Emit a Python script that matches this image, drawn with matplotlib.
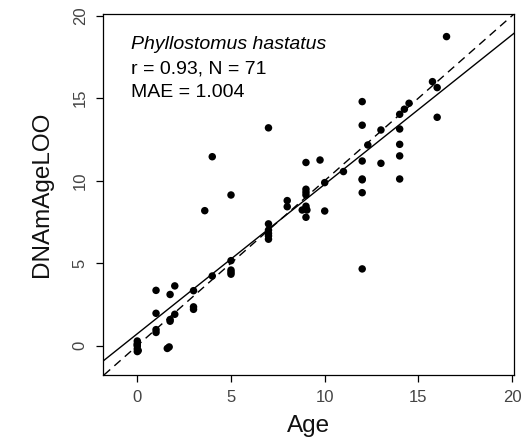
import matplotlib
matplotlib.use("Agg")
import matplotlib.pyplot as plt

plt.rcParams['font.family'] = ['Liberation Sans', 'DejaVu Sans']

# ---- data ----
age = [0, 0, 0, 0, 0, 0.05, 0,
       1, 1, 1, 1,
       1.75, 1.75, 1.75, 1.7, 1.6,
       2, 2,
       3, 3, 3,
       3.6,
       4, 4,
       5, 5, 5, 5, 5,
       7, 7, 7, 7, 7, 7,
       8, 8,
       9, 9, 9, 8.8, 9, 9.05, 9, 9, 9,
       9.75,
       10, 10,
       11,
       12, 12, 12, 12, 12, 12, 12,
       12.3,
       13, 13,
       14, 14, 14, 14, 14,
       14.25, 14.5,
       15.75, 16, 16,
       16.5]
dnam_age_loo = [0.28, 0.12, -0.02, -0.2, -0.36, -0.3, 0.05,
                3.35, 1.96, 0.97, 0.8,
                3.1, 1.58, 1.48, -0.08, -0.17,
                3.62, 1.9,
                3.33, 2.35, 2.2,
                8.18,
                11.45, 4.22,
                9.13, 5.15, 4.58, 4.45, 4.33,
                13.2, 7.38, 7.0, 6.8, 6.65, 6.45,
                8.79, 8.42,
                11.1, 9.48, 9.13, 8.22, 8.45, 8.22, 8.3, 7.78, 9.3,
                11.25,
                9.88, 8.16,
                10.55,
                14.79, 13.36, 11.19, 10.1, 9.27, 4.65, 10.05,
                12.16,
                13.07, 11.05,
                14.02, 13.13, 12.2, 11.5, 10.1,
                14.33, 14.69,
                16.0, 15.64, 13.84,
                18.73]
fit_intercept = 0.72
fit_slope = 0.906

species = "Phyllostomus hastatus"
stats_line1 = "r = 0.93, N = 71"
stats_line2 = "MAE = 1.004"
ticks = [0, 5, 10, 15, 20]

# ---- figure ----
W, H = 531, 444
fig = plt.figure(figsize=(W / 100, H / 100), dpi=100)
ax = fig.add_axes([103 / W, 1 - 375 / H, (514 - 103) / W, (375 - 14) / H])

ax.scatter(age, dnam_age_loo, s=29, color='black', edgecolors='none', zorder=3)
ax.axline((0, 0), slope=1, color='black', lw=1.0, ls=(0, (6, 4)))
ax.axline((0, fit_intercept), slope=fit_slope, color='black', lw=1.0)

ax.set_xlim(-1.83, 20.1)
ax.set_ylim(-1.78, 20.1)
ax.set_xticks(ticks)
ax.set_yticks(ticks)
ax.set_xticklabels([str(t) for t in ticks])
ax.set_yticklabels([str(t) for t in ticks], rotation=90, va='center')

ax.tick_params(axis='both', direction='out', length=5, width=0.9,
               labelsize=12, labelcolor='#444444', color='black')
ax.tick_params(axis='x', pad=6)
ax.tick_params(axis='y', pad=6)
for sp in ax.spines.values():
    sp.set_linewidth(0.9)

ax.set_xlabel("Age", fontsize=17.5, color='#111111')
ax.xaxis.set_label_coords(0.5, -0.112)
ax.set_ylabel("DNAmAgeLOO", fontsize=17.5, color='#111111', va='center')
ax.yaxis.set_label_coords(-0.148, 0.5)

ax.text(-0.35, 17.98, species, fontsize=14, style='italic', va='baseline', ha='left')
ax.text(-0.35, 16.47, stats_line1, fontsize=14, va='baseline', ha='left')
ax.text(-0.35, 15.09, stats_line2, fontsize=14, va='baseline', ha='left')

fig.savefig("out.png", dpi=100)
